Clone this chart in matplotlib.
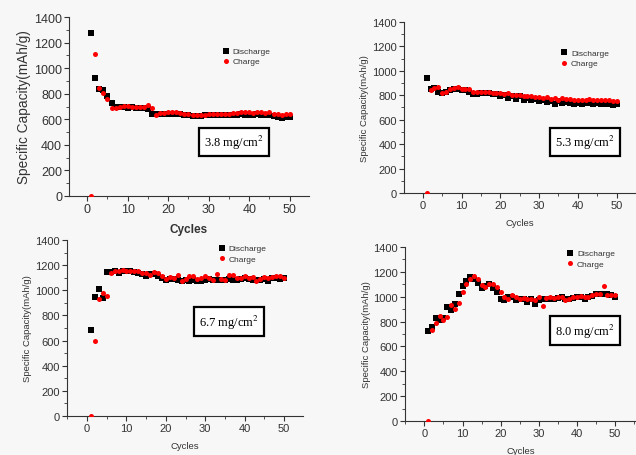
import numpy as np
import matplotlib
matplotlib.use("Agg")
import matplotlib.pyplot as plt
from matplotlib.ticker import MultipleLocator

plt.rcParams['font.family'] = ['Liberation Sans', 'DejaVu Sans']

cycles = list(range(1, 51))

# 3.8 mg/cm2
dis_38 = [1275, 925, 840, 830, 785, 730, 695, 700, 700, 690,
          695, 690, 685, 690, 680, 645, 640, 645, 640, 645,
          640, 640, 645, 635, 635, 625, 625, 625, 630, 630,
          630, 635, 635, 635, 630, 635, 635, 640, 635, 635,
          635, 640, 635, 635, 630, 625, 620, 610, 615, 620]
chg_38 = [0, 1110, 845, 805, 755, 690, 690, 700, 705, 705,
          700, 695, 700, 695, 710, 685, 630, 650, 650, 655,
          655, 655, 650, 645, 640, 635, 635, 630, 635, 640,
          640, 645, 645, 645, 645, 650, 650, 655, 655, 655,
          650, 660, 655, 650, 655, 645, 640, 635, 640, 640]

# 5.3 mg/cm2
dis_53 = [940, 850, 860, 825, 815, 830, 840, 850, 850, 845,
          845, 825, 810, 810, 815, 815, 815, 810, 810, 795,
          800, 780, 790, 770, 795, 760, 780, 765, 770, 755,
          765, 745, 750, 730, 750, 740, 745, 740, 730, 740,
          730, 735, 740, 730, 735, 730, 730, 725, 720, 725]
chg_53 = [0, 845, 860, 870, 820, 825, 850, 860, 865, 855,
          855, 855, 830, 825, 825, 830, 830, 820, 820, 815,
          810, 815, 800, 800, 805, 790, 795, 790, 785, 785,
          775, 785, 770, 775, 765, 775, 770, 770, 765, 760,
          760, 765, 770, 760, 760, 760, 765, 760, 755, 750]

# 6.7 mg/cm2
dis_67 = [685, 945, 1010, 935, 1145, 1145, 1150, 1140, 1150, 1150,
          1150, 1145, 1140, 1130, 1110, 1130, 1130, 1110, 1100, 1080,
          1090, 1090, 1080, 1070, 1085, 1075, 1080, 1070, 1075, 1085,
          1090, 1080, 1080, 1080, 1085, 1090, 1085, 1080, 1090, 1095,
          1090, 1085, 1080, 1085, 1090, 1075, 1095, 1100, 1090, 1095]
chg_67 = [0, 600, 930, 975, 955, 1140, 1155, 1150, 1160, 1155,
          1150, 1150, 1150, 1140, 1135, 1120, 1145, 1140, 1110, 1090,
          1105, 1095, 1125, 1070, 1090, 1115, 1110, 1090, 1100, 1110,
          1100, 1080, 1130, 1090, 1080, 1120, 1120, 1100, 1100, 1110,
          1100, 1105, 1075, 1090, 1105, 1100, 1105, 1110, 1110, 1100]

# 8.0 mg/cm2
dis_80 = [725, 760, 830, 810, 830, 915, 890, 945, 1020, 1090,
          1130, 1160, 1145, 1110, 1070, 1090, 1105, 1070, 1035, 985,
          975, 1000, 995, 975, 985, 985, 960, 985, 940, 970,
          985, 985, 985, 985, 990, 995, 985, 985, 990, 995,
          995, 985, 995, 1005, 1025, 1025, 1020, 1020, 1010, 1000]
chg_80 = [0, 735, 790, 845, 815, 840, 930, 900, 950, 1035,
          1100, 1140, 1170, 1145, 1095, 1075, 1105, 1105, 1075, 1035,
          995, 985, 1010, 1000, 985, 990, 985, 980, 970, 1000,
          925, 990, 995, 990, 1000, 1000, 975, 985, 1000, 995,
          1005, 995, 1000, 1010, 1020, 1020, 1090, 1010, 1010, 1010]

loadings = ["3.8", "5.3", "6.7", "8.0"]
discharge = [dis_38, dis_53, dis_67, dis_80]
charge = [chg_38, chg_53, chg_67, chg_80]

# axes rectangles in figure fraction, x limits, label sizes, legend/box positions
rects = [[0.1085, 0.568, 0.377, 0.3925],
         [0.635, 0.5746, 0.365, 0.375],
         [0.1053, 0.0855, 0.371, 0.386],
         [0.637, 0.0746, 0.363, 0.3816]]
xlims = [(-4.5, 54.7), (-4.9, 55), (-5.1, 54.8), (-5.05, 55.5)]
tick_fs = [9.0, 8.0, 8.0, 8.0]
ylab_fs = [9.8, 6.8, 6.8, 6.8]
xlab_fs = [8.5, 6.8, 6.8, 6.8]
leg_pos = [(0.62, 0.78), (0.655, 0.79), (0.62, 0.923), (0.68, 0.934)]
box_pos = [(0.69, 0.30), (0.78, 0.30), (0.686, 0.537), (0.78, 0.52)]

fig = plt.figure(figsize=(6.36, 4.56), dpi=100, facecolor='#f7f7f7')

for i in range(4):
    ax = fig.add_axes(rects[i])
    ax.set_facecolor('none')
    ax.scatter(cycles, discharge[i], marker='s', s=13, color='black', linewidths=0,
               label='Discharge', zorder=3)
    ax.scatter(cycles, charge[i], marker='o', s=13, color='red', linewidths=0,
               label='Charge', zorder=4)
    ax.set_xlim(*xlims[i])
    ax.set_ylim(0, 1400)
    ax.xaxis.set_major_locator(MultipleLocator(10))
    ax.xaxis.set_minor_locator(MultipleLocator(5))
    ax.yaxis.set_major_locator(MultipleLocator(200))
    ax.yaxis.set_minor_locator(MultipleLocator(100))
    ax.spines['top'].set_visible(False)
    ax.spines['right'].set_visible(False)
    for s in ['left', 'bottom']:
        ax.spines[s].set_linewidth(0.8)
        ax.spines[s].set_color('#333333')
    ax.tick_params(which='major', direction='out', length=3.5, width=0.8,
                   labelsize=tick_fs[i], pad=1.5, colors='#333333')
    ax.tick_params(which='minor', direction='out', length=2, width=0.6, colors='#333333')
    ax.set_ylabel('Specific Capacity(mAh/g)', fontsize=ylab_fs[i], color='#333333', labelpad=2)
    ax.set_xlabel('Cycles', fontsize=xlab_fs[i], color='#333333', labelpad=6,
                  fontweight='bold' if i == 0 else 'normal')
    leg = ax.legend(loc='center left', bbox_to_anchor=leg_pos[i], frameon=False,
                    fontsize=6, handletextpad=0.3, labelspacing=0.3,
                    borderpad=0, handlelength=1.0, markerscale=1.0)
    for t in leg.get_texts():
        t.set_color('#333333')
    ax.text(box_pos[i][0], box_pos[i][1], loadings[i] + ' mg/cm$^2$',
            transform=ax.transAxes, ha='center', va='center',
            fontsize=9, family='Liberation Serif',
            math_fontfamily='stix',
            bbox=dict(boxstyle='square,pad=0.4', facecolor='white',
                      edgecolor='black', linewidth=1.6))

fig.savefig('out.png', dpi=100, facecolor=fig.get_facecolor())
